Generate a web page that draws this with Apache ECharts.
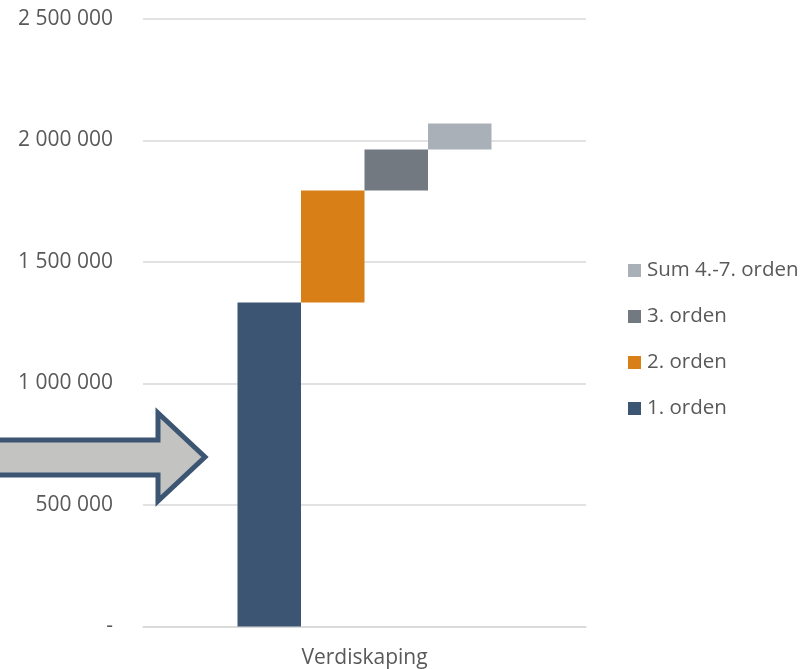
<!DOCTYPE html>
<html>
<head>
<meta charset="utf-8">
<script src="https://cdn.jsdelivr.net/npm/echarts@6/dist/echarts.min.js"></script>
<style>html,body{margin:0;padding:0;background:#fff}#c{width:806px;height:669px}</style>
</head>
<body>
<div id="c"></div>
<script>
var categories = ['Verdiskaping'];
var seriesNames = ['1. orden', '2. orden', '3. orden', 'Sum 4.-7. orden'];
var seriesValues = [1333000, 461000, 169000, 107000];
var seriesColors = ['#3b5573', '#d87f17', '#727981', '#aab0b7'];
var yTicks = [0, 500000, 1000000, 1500000, 2000000, 2500000];

var FONT = 'Open Sans';
var TXT = '#595959';

function fmt(v) {
  if (v === 0) return '-';
  return String(v).replace(/\B(?=(\d{3})+(?!\d))/g, ' ');
}

var series = [];
var cum = 0;
seriesNames.forEach(function (name, i) {
  var base = cum;
  series.push({
    name: '_base' + i, type: 'bar', stack: 's' + i,
    data: [base], itemStyle: { color: 'transparent' },
    emphasis: { disabled: true }, silent: true,
    barWidth: 63.5, barGap: '0%'
  });
  series.push({
    name: name, type: 'bar', stack: 's' + i,
    data: [seriesValues[i]], itemStyle: { color: seriesColors[i] },
    barWidth: 63.5, barGap: '0%'
  });
  cum += seriesValues[i];
});

var chart = echarts.init(document.getElementById('c'));
chart.setOption({
  animation: false,
  textStyle: { fontFamily: FONT },
  grid: { left: 143, right: 220, top: 19, bottom: 42.5 },
  legend: {
    orient: 'vertical', left: 623, top: 255,
    data: seriesNames.slice().reverse(),
    itemWidth: 13, itemHeight: 13, itemGap: 25,
    icon: 'rect',
    textStyle: { fontFamily: FONT, fontSize: 20.5, color: TXT, padding: [0, 0, 0, 1] }
  },
  xAxis: {
    type: 'category', data: categories,
    axisLine: { lineStyle: { color: '#d9d9d9', width: 1.5 } },
    axisTick: { show: false },
    axisLabel: { fontFamily: FONT, fontSize: 21, color: TXT, margin: 21 }
  },
  yAxis: {
    type: 'value', min: 0, max: 2500000, interval: 500000,
    axisLine: { show: false }, axisTick: { show: false },
    splitLine: { lineStyle: { color: '#d9d9d9', width: 1.5 } },
    axisLabel: { fontFamily: FONT, fontSize: 21, color: TXT, margin: 30, formatter: fmt }
  },
  series: series,
  graphic: [{
    type: 'polygon', z: 100,
    shape: { points: [[-10, 440], [158, 440], [158, 413], [205, 457], [158, 501], [158, 475], [-10, 475]] },
    style: { fill: '#c3c3c1', stroke: '#3b5573', lineWidth: 5, lineJoin: 'miter' }
  }]
});
</script>
</body>
</html>
